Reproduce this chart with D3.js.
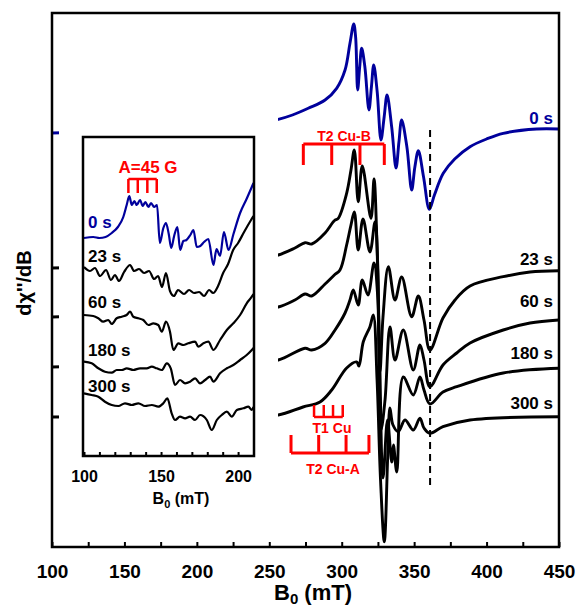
<!DOCTYPE html>
<html>
<head>
<meta charset="utf-8">
<script src="https://cdn.jsdelivr.net/npm/d3@7"></script>
<style>
body { margin: 0; background: #fff; }
text { font-family: "Liberation Sans", Arial, sans-serif; font-weight: bold; }
</style>
</head>
<body>
<script>
// main spectra: [B0 (mT), dX''/dB in arb. units, already offset]
var spec0 = [[100,414],[150,416],[200,419],[240,424],[256.2,427.7],[266,432],[276.9,438.7],[288.5,447],[296.5,458.7],[302.3,477],[305.7,503.7],[308.3,523],[309.6,510],[311,457],[312.4,480],[313.8,498.7],[316,480],[318.8,437],[320.5,460],[322.1,482],[324.5,455],[327.1,407],[329.3,430],[331.3,452],[334.5,420],[337.5,379],[339.5,405],[341.4,427],[345,400],[348.3,357],[350.5,380],[352.9,396.3],[356.5,370],[360.5,337.7],[364,352],[370.1,373.7],[378,388],[388.6,400.3],[400,408],[411.5,413.7],[434.6,418],[450,418]];
var spec23 = [[100,279],[200,283],[240,288],[256.2,292],[267.7,299],[274.7,304.3],[279.3,303],[288.5,314],[294.9,326.3],[297.6,328.7],[303.4,353.7],[306.4,377],[308.7,397],[311.4,345.3],[314.2,381],[320.2,328.7],[322.3,368],[324.4,300],[326.4,175],[328.5,230],[332.2,280.3],[336.8,247],[341.4,270],[348.3,230.3],[352.9,251],[356.8,227],[360.9,197],[369.9,229],[378.2,247],[388.6,261],[411.5,270.3],[430,275],[449.8,276.3]];
var spec60 = [[100,230],[200,235],[240,238],[256.2,240],[267.7,247],[274.7,253],[279.3,251],[288.5,263],[294.9,272],[298.8,277],[303.4,302],[306.4,322],[308.7,335],[311.4,297],[314.7,328],[319.5,295],[323,325],[325,277],[327.1,117],[329.9,147],[333.3,220],[336.8,187],[342.5,217],[349.4,177],[354,202],[356.8,187],[360.9,160.3],[369.9,182],[379.4,194],[388.6,204],[411.5,217],[430,224],[449.8,227]];
var spec180 = [[100,180],[200,184],[240,186],[256.2,187],[274.7,198.7],[279.3,197],[288.5,203.7],[295.4,217],[302.3,234],[305.7,247],[308,257],[311.4,242],[314.2,267],[318.1,252],[322.3,284],[325,247],[328.5,69],[331.6,127],[334.5,85],[335.7,102],[338,75],[342.5,170],[349.4,152],[354,170],[356.8,157],[360.9,143],[369.9,155],[379.4,160.3],[411.5,174],[449.8,178.7]];
var spec300 = [[100,130],[200,131],[240,132],[256.2,132],[273.3,140],[285,145],[293.1,157],[303.4,179],[310.3,185],[311.9,181],[314.9,205.3],[319.5,220.3],[321.8,232],[324.4,167],[326.8,67],[329.4,5.3],[331.9,97],[333.3,139],[335.4,122],[339.1,115.3],[343.7,127],[349.4,117],[354,128.7],[356.8,119],[360.9,113.7],[369.9,120.3],[388.6,127],[449.8,130.3]];

// inset spectra (100-210 mT region, magnified)
var ins0 = [[100,218],[106,219],[110,218],[114,219],[118,223],[122,229],[125.5,239],[127.7,251],[129.4,260],[131,251],[132.7,255],[134.2,251],[136.4,256],[138.1,250],[139.8,254],[141.8,249],[143.5,253],[145.5,249],[147.4,251],[149.2,213],[151.5,228],[153.2,233],[155,222],[156.6,208],[158.5,220],[160.6,229],[162.4,206],[164.5,215],[166.5,216],[169,221],[171,226],[173.2,209],[175.5,210],[177.9,214],[180.7,217],[184,191],[186,207],[188.3,200],[190.8,224],[193.8,206],[197,222],[201.3,243],[205.5,257],[210,273]];
var ins23 = [[100,189],[103.9,185],[107.1,188],[110.4,180],[114.3,186],[117.5,176],[120.1,181],[122.7,175],[126,184],[129.9,191],[132.5,185],[135.7,187],[139,183],[142.2,185],[145.5,177],[148.1,180],[150.6,169],[153.2,183],[155.8,165],[158.4,160],[161,166],[164.9,162],[168.2,166],[171.4,163],[174.7,164],[177.9,160],[181.2,166],[183.8,163],[187,170],[190.3,183],[193.5,192],[196.8,206],[200,213],[203.9,224],[208.4,236],[210,240]];
var ins60 = [[100,141],[106,140],[109.3,137.7],[112.5,134.3],[115.8,136],[118,132],[121.2,137.7],[124.5,139.3],[127.7,141],[129.9,144.3],[132,139.3],[135.3,137.7],[138.5,136],[141.8,131],[145,132.7],[148.2,131],[150.5,124.3],[153.2,134.3],[155.8,124.3],[158,106],[161.2,112.7],[164.5,111],[167.7,112.7],[172.1,114.3],[174.2,109.3],[177.5,112.7],[180.7,114.3],[184,106],[188.3,116],[192.7,126],[196.9,132.7],[201.3,141],[205.6,152.7],[208.9,159.3],[210,162]];
var ins180 = [[100,94.3],[105,92.7],[109.3,87.7],[113.6,84.3],[118,83.3],[121.2,86],[124.5,86],[127.7,87.7],[132,86],[136.4,87.7],[140.7,87.7],[144,89.3],[147.2,87.7],[150.5,86],[153.7,92.7],[156.3,87.7],[159.1,71],[162.3,76],[165.6,72.7],[168.8,74.3],[172.1,77.7],[175.3,72.7],[178.6,76],[181.8,79.3],[184,74.3],[188.3,82.7],[192.7,87.7],[196.9,91],[201.3,96],[205.6,101],[208.9,106],[210,108]];
var ins300 = [[100,62.7],[105,61],[109.3,59.3],[113.6,54.3],[118,51],[122.3,50],[126.6,52.7],[131,51],[135.3,52.7],[139.6,50],[144,51],[148.2,49.3],[151.5,52.7],[154.1,57.7],[156.9,42.7],[159.1,36],[162.3,39.3],[165.6,37.7],[168.8,39.3],[172.1,36],[175.3,41],[179.7,36],[182.9,26],[186.2,36],[189.4,41],[192.7,44.3],[195.9,39.3],[199.2,46],[203.4,47.7],[206.7,49.3],[208.9,46],[210,49]];

var times = ["0 s", "23 s", "60 s", "180 s", "300 s"];
var mainTicks = d3.range(100, 451, 25);
var insetTicks = d3.range(100, 201, 10);

// hyperfine combs (mT)
var combA45 = [128.8, 134.9, 141.1, 147.2];   // inset
var combT2B = [273.5, 293.1, 312.6, 329.4];
var combT1 = [280.9, 287.6, 294.0, 300.7];
var combT2A = [265.0, 284.1, 303.0, 318.8];
var markerB = 361;

var W = 579, H = 608;
var colors = ["#00009c", "#000", "#000", "#000", "#000"];
var red = "#ff0000";

var svg = d3.select("body").append("svg")
    .attr("width", W)
    .attr("height", H);

// main frame
var frame = {left: 52, right: 559, top: 13, bottom: 547};
var x = d3.scaleLinear().domain([100, 450]).range([frame.left, frame.right]);
var y = d3.scaleLinear().domain([0, 534]).range([frame.bottom, frame.top]);

var line = d3.line()
    .x(function(d){ return x(d[0]); })
    .y(function(d){ return y(d[1]); })
    .curve(d3.curveCatmullRom.alpha(0.5));

var mainSpectra = [spec0, spec23, spec60, spec180, spec300];
svg.append("g").selectAll("path")
    .data(mainSpectra)
    .enter()
    .append("path")
    .attr("d", line)
    .attr("fill", "none")
    .attr("stroke", function(d, i){ return colors[i]; })
    .attr("stroke-width", 2.9)
    .attr("stroke-linejoin", "round");

// dashed marker
svg.append("line")
    .attr("x1", x(markerB)).attr("x2", x(markerB))
    .attr("y1", 130).attr("y2", 488)
    .attr("stroke", "#000")
    .attr("stroke-width", 2)
    .attr("stroke-dasharray", "7,5");

// right-hand labels
var rightLabelY = [124, 265, 307, 359, 409];
svg.append("g").selectAll("text")
    .data(times)
    .enter()
    .append("text")
    .attr("x", 553)
    .attr("y", function(d, i){ return rightLabelY[i]; })
    .attr("text-anchor", "end")
    .style("font-size", "17px")
    .attr("fill", function(d, i){ return colors[i]; })
    .text(function(d){ return d; });

// combs
function comb(vals, yBar, yTip, lw){
    var g = svg.append("g").attr("stroke", red).attr("stroke-width", lw).attr("fill", "none");
    g.append("line")
        .attr("x1", x(vals[0])).attr("x2", x(vals[vals.length - 1]))
        .attr("y1", yBar).attr("y2", yBar);
    g.selectAll("line.t").data(vals).enter().append("line")
        .attr("class", "t")
        .attr("x1", function(d){ return x(d); }).attr("x2", function(d){ return x(d); })
        .attr("y1", yBar).attr("y2", yTip);
}
comb(combT2B, 144, 165, 3);
comb(combT1, 417, 405, 2.5);
comb(combT2A, 453, 435, 3);

svg.append("text").attr("x", 344).attr("y", 141).attr("text-anchor", "middle")
    .style("font-size", "14px").attr("fill", red).text("T2 Cu-B");
svg.append("text").attr("x", 332).attr("y", 433).attr("text-anchor", "middle")
    .style("font-size", "14px").attr("fill", red).text("T1 Cu");
svg.append("text").attr("x", 333).attr("y", 474).attr("text-anchor", "middle")
    .style("font-size", "14px").attr("fill", red).text("T2 Cu-A");

// main axis
var xAxis = d3.axisBottom(x)
    .tickValues(mainTicks)
    .tickSize(-5)
    .tickPadding(18)
    .tickFormat(function(d){ return d % 50 === 0 ? d : ""; });
var gx = svg.append("g")
    .attr("transform", "translate(0," + frame.bottom + ")")
    .call(xAxis);
gx.select(".domain").remove();
gx.selectAll(".tick line").attr("stroke-width", 2);
gx.selectAll("text").style("font-size", "19px").attr("fill", "#000")
    .style("font-family", '"Liberation Sans", Arial, sans-serif');

svg.append("rect")
    .attr("x", frame.left).attr("y", frame.top)
    .attr("width", frame.right - frame.left)
    .attr("height", frame.bottom - frame.top)
    .attr("fill", "none")
    .attr("stroke", "#000")
    .attr("stroke-width", 2.5);

var xt = svg.append("text").attr("x", 313).attr("y", 600).attr("text-anchor", "middle")
    .style("font-size", "22px");
xt.append("tspan").text("B");
xt.append("tspan").attr("dy", 4).style("font-size", "15px").text("0");
xt.append("tspan").attr("dy", -4).text(" (mT)");

svg.append("text")
    .attr("transform", "translate(31,283) rotate(-90)")
    .attr("text-anchor", "middle")
    .style("font-size", "20px")
    .text("d\u03c7''/dB");

// inset, pasted on a white card
svg.append("rect")
    .attr("x", 59).attr("y", 100)
    .attr("width", 219).attr("height", 415)
    .attr("fill", "#fff");

var inset = {left: 83, right: 254, top: 137, bottom: 456};
var xi = d3.scaleLinear().domain([100, 210]).range([84, 253.5]);
var yi = d3.scaleLinear().domain([0, 319]).range([inset.bottom, inset.top]);
var lineI = d3.line()
    .x(function(d){ return xi(d[0]); })
    .y(function(d){ return yi(d[1]); })
    .curve(d3.curveMonotoneX);

var insetSpectra = [ins0, ins23, ins60, ins180, ins300];
svg.append("g").selectAll("path")
    .data(insetSpectra)
    .enter()
    .append("path")
    .attr("d", lineI)
    .attr("fill", "none")
    .attr("stroke", function(d, i){ return colors[i]; })
    .attr("stroke-width", 2.2)
    .attr("stroke-linejoin", "round");

var insetLabelY = [228, 262, 308, 356, 392];
svg.append("g").selectAll("text")
    .data(times)
    .enter()
    .append("text")
    .attr("x", 88)
    .attr("y", function(d, i){ return insetLabelY[i]; })
    .style("font-size", "17px")
    .attr("fill", function(d, i){ return colors[i]; })
    .text(function(d){ return d; });

// A=45 G comb
var ga = svg.append("g").attr("stroke", red).attr("stroke-width", 2.5);
ga.append("line").attr("x1", xi(combA45[0])).attr("x2", xi(combA45[3])).attr("y1", 179).attr("y2", 179);
ga.selectAll("line.t").data(combA45).enter().append("line").attr("class", "t")
    .attr("x1", function(d){ return xi(d); }).attr("x2", function(d){ return xi(d); })
    .attr("y1", 179).attr("y2", 193);
svg.append("text").attr("x", 148).attr("y", 173).attr("text-anchor", "middle")
    .style("font-size", "17px").attr("fill", red).text("A=45 G");

var xiAxis = d3.axisBottom(xi)
    .tickValues(insetTicks)
    .tickSize(-4)
    .tickPadding(15)
    .tickFormat(function(d){ return d % 50 === 0 ? d : ""; });
var gi = svg.append("g")
    .attr("transform", "translate(0," + inset.bottom + ")")
    .call(xiAxis);
gi.select(".domain").remove();
gi.selectAll(".tick line").attr("stroke-width", 2);
gi.selectAll("text").style("font-size", "16px").attr("fill", "#000")
    .style("font-family", '"Liberation Sans", Arial, sans-serif');

svg.append("rect")
    .attr("x", inset.left).attr("y", inset.top)
    .attr("width", inset.right - inset.left)
    .attr("height", inset.bottom - inset.top)
    .attr("fill", "none")
    .attr("stroke", "#000")
    .attr("stroke-width", 2.5);

var xit = svg.append("text").attr("x", 181).attr("y", 504).attr("text-anchor", "middle")
    .style("font-size", "16px");
xit.append("tspan").text("B");
xit.append("tspan").attr("dy", 4).style("font-size", "11px").text("0");
xit.append("tspan").attr("dy", -4).text(" (mT)");
</script>
</body>
</html>
